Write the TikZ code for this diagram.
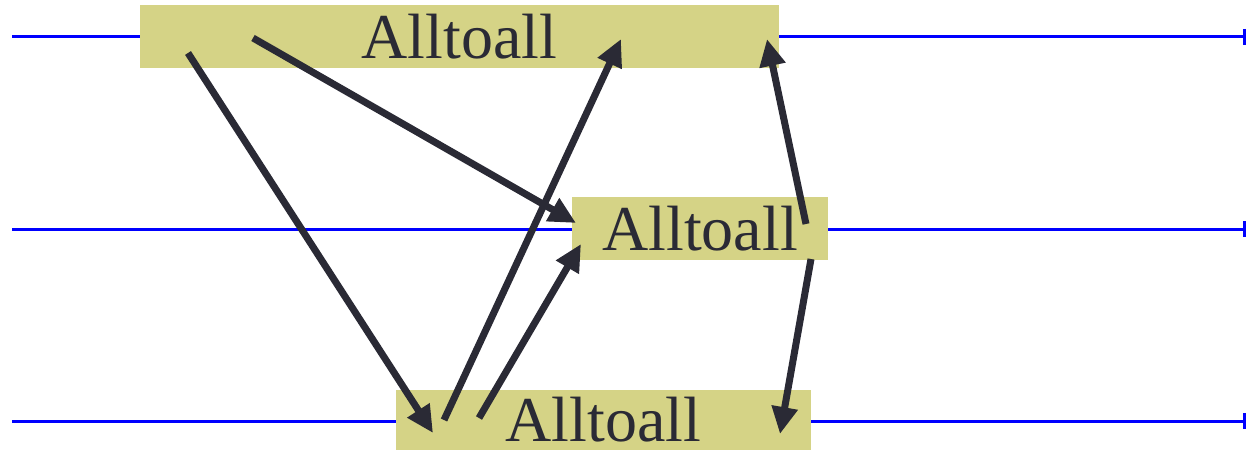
\documentclass[tikz,border=0pt]{standalone}
\usepackage{fontspec}
\setmainfont{Liberation Serif}
\usetikzlibrary{arrows.meta}
\definecolor{boxfill}{RGB}{213,211,134}
\definecolor{arrowdark}{RGB}{42,42,53}
\begin{document}
\begin{tikzpicture}[x=1pt,y=-1pt,
  timeline/.style={draw=blue,line width=3pt,-{Bar[width=16pt,line width=3pt]}},
  opbox/.style={fill=boxfill,draw=none,minimum height=63pt,inner sep=0pt,
    font=\fontsize{64}{70}\selectfont,text=arrowdark},
  msg/.style={draw=arrowdark,line width=7pt,
    -{Triangle[length=27pt,width=25pt]}}]
\useasboundingbox (0,0) rectangle (1247,452);
% timelines
\coordinate (l1s) at (12,37);  \coordinate (l1e) at (1246,37);
\coordinate (l2s) at (12,229); \coordinate (l2e) at (1246,229);
\coordinate (l3s) at (12,421); \coordinate (l3e) at (1246,421);
\draw[timeline] (l1s) -- (l1e);
\draw[timeline] (l2s) -- (l2e);
\draw[timeline] (l3s) -- (l3e);
% boxes
\node[opbox,minimum width=639pt] (b1) at (459.5,36.5) {Alltoall};
\node[opbox,minimum width=256pt] (b2) at (700,228.5) {Alltoall};
\node[opbox,minimum width=415pt,minimum height=60pt] (b3) at (603.5,419.5) {Alltoall};
% arrow endpoints
\coordinate (a1s) at (188,53);  \coordinate (a1e) at (433,433);
\coordinate (a2s) at (253,38);  \coordinate (a2e) at (576,223);
\coordinate (a3s) at (444,420); \coordinate (a3e) at (621,39);
\coordinate (a4s) at (479,418); \coordinate (a4e) at (581,244);
\coordinate (a5s) at (806,224); \coordinate (a5e) at (767,39);
\coordinate (a6s) at (811,259); \coordinate (a6e) at (780,434);
\draw[msg] (a1s) -- (a1e);
\draw[msg] (a2s) -- (a2e);
\draw[msg] (a3s) -- (a3e);
\draw[msg] (a4s) -- (a4e);
\draw[msg] (a5s) -- (a5e);
\draw[msg] (a6s) -- (a6e);
\end{tikzpicture}
\end{document}
